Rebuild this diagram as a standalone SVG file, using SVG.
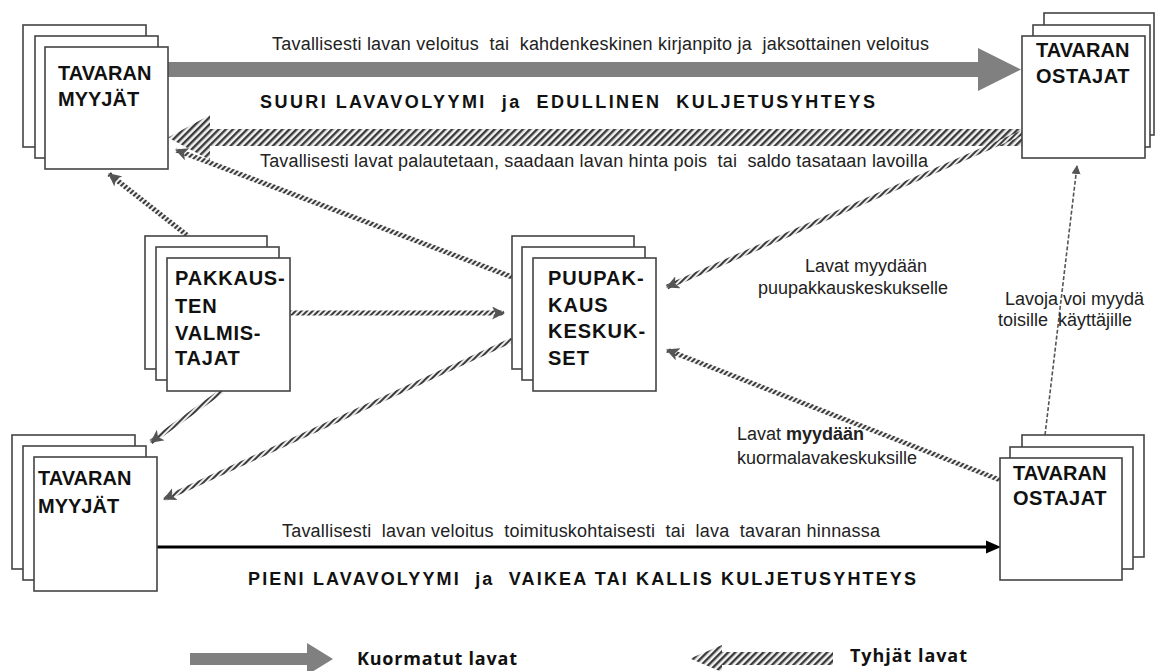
<svg xmlns="http://www.w3.org/2000/svg" width="1155" height="671" viewBox="0 0 1155 671">
<style>
.box{fill:#fff;stroke:#444;stroke-width:1.6}
.nt{font-family:"Liberation Sans",Arial,sans-serif;font-weight:bold;font-size:20px;fill:#111}
.lb{font-family:"Liberation Sans",Arial,sans-serif;font-size:18px;fill:#222}
.hd{font-family:"Liberation Sans",Arial,sans-serif;font-weight:bold;font-size:18px;fill:#111}
.lg{font-family:"Open Sans","Noto Sans",sans-serif;font-weight:bold;font-size:18px;fill:#111}
.rope{fill:none;stroke:url(#rope);stroke-width:5}
</style>
<defs>
<pattern id="hatch" patternUnits="userSpaceOnUse" width="5" height="5" patternTransform="rotate(45)">
<rect width="5" height="5" fill="#f2f2f2"/><rect width="2.4" height="5" fill="#3a3a3a"/>
</pattern>
<pattern id="rope" patternUnits="userSpaceOnUse" width="4" height="4" patternTransform="rotate(45)">
<rect width="4" height="4" fill="#eee"/><rect width="2" height="4" fill="#3c3c3c"/>
</pattern>
<marker id="ah" viewBox="0 0 12 12" refX="11" refY="6" markerWidth="13" markerHeight="13" markerUnits="userSpaceOnUse" orient="auto">
<path d="M0,0 L12,6 L0,12 L3,6 z" fill="#555"/>
</marker>
<marker id="ahs" viewBox="0 0 10 10" refX="9" refY="5" markerWidth="9" markerHeight="9" markerUnits="userSpaceOnUse" orient="auto">
<path d="M0,0 L10,5 L0,10 z" fill="#555"/>
</marker>
</defs>

<g id="connectors">
<polygon points="168,62 978,62 978,48 1021,69.5 978,91 978,77 168,77" fill="#808080"/>
<polygon points="1022,129 210,129 210,115 168,137.5 210,160 210,146 1022,146" fill="url(#hatch)"/>
<line x1="157" y1="547" x2="988" y2="547" stroke="#000" stroke-width="3"/>
<polygon points="986,540.5 1001,547 986,553.5" fill="#000"/>
<line class="rope" x1="512" y1="277" x2="176" y2="150" marker-end="url(#ah)"/>
<line class="rope" x1="188" y1="236" x2="109" y2="174" marker-end="url(#ah)"/>
<line class="rope" x1="290" y1="313" x2="504" y2="313" marker-end="url(#ah)"/>
<line class="rope" x1="222" y1="391" x2="151" y2="442" marker-end="url(#ah)"/>
<line class="rope" x1="512" y1="340" x2="164" y2="499" marker-end="url(#ah)"/>
<line class="rope" x1="1022" y1="133" x2="667" y2="287" marker-end="url(#ah)"/>
<line class="rope" x1="1000" y1="480" x2="667" y2="350" marker-end="url(#ah)"/>
<line x1="1045" y1="435" x2="1077" y2="166" stroke="#555" stroke-width="1.6" stroke-dasharray="4,2" marker-end="url(#ahs)"/>
</g>

<g id="seller-top">
<rect class="box" x="23" y="25" width="123" height="122"/>
<rect class="box" x="35" y="36" width="123" height="122"/>
<rect class="box" x="45" y="47" width="123" height="122"/>
<text class="nt" x="58" y="80">TAVARAN</text>
<text class="nt" x="58" y="106">MYYJÄT</text>
</g>

<g id="buyer-top">
<rect class="box" x="1044" y="13" width="110" height="122"/>
<rect class="box" x="1033" y="25" width="117" height="122"/>
<rect class="box" x="1022" y="36" width="123" height="122"/>
<text class="nt" x="1036" y="57">TAVARAN</text>
<text class="nt" x="1036" y="83" letter-spacing="0.5">OSTAJAT</text>
</g>

<g id="pakkausten">
<rect class="box" x="145" y="236" width="122" height="133"/>
<rect class="box" x="156" y="247" width="123" height="133"/>
<rect class="box" x="167" y="258" width="123" height="133"/>
<text class="nt" x="175" y="285" letter-spacing="0.8">PAKKAUS-</text>
<text class="nt" x="175" y="313" letter-spacing="0.8">TEN</text>
<text class="nt" x="175" y="340" letter-spacing="0.8">VALMIS-</text>
<text class="nt" x="175" y="365" letter-spacing="0.8">TAJAT</text>
</g>

<g id="puupakkaus">
<rect class="box" x="512" y="236" width="122" height="133"/>
<rect class="box" x="522" y="247" width="123" height="133"/>
<rect class="box" x="533" y="258" width="123" height="133"/>
<text class="nt" x="548" y="285" letter-spacing="1">PUUPAK-</text>
<text class="nt" x="548" y="312" letter-spacing="1">KAUS</text>
<text class="nt" x="548" y="338" letter-spacing="1">KESKUK-</text>
<text class="nt" x="548" y="365" letter-spacing="1">SET</text>
</g>

<g id="seller-bottom">
<rect class="box" x="12" y="435" width="123" height="134"/>
<rect class="box" x="23" y="446" width="123" height="134"/>
<rect class="box" x="34" y="457" width="123" height="134"/>
<text class="nt" x="38" y="485">TAVARAN</text>
<text class="nt" x="38" y="513">MYYJÄT</text>
</g>

<g id="buyer-bottom">
<rect class="box" x="1022" y="435" width="122" height="122"/>
<rect class="box" x="1010" y="447" width="123" height="122"/>
<rect class="box" x="1000" y="458" width="122" height="122"/>
<text class="nt" x="1013" y="480">TAVARAN</text>
<text class="nt" x="1013" y="505" letter-spacing="0.5">OSTAJAT</text>
</g>

<g id="labels">
<text class="lb" x="272" y="50" textLength="657" lengthAdjust="spacing" xml:space="preserve">Tavallisesti lavan veloitus  tai  kahdenkeskinen kirjanpito ja  jaksottainen veloitus</text>
<text class="hd" x="260" y="108" textLength="615" lengthAdjust="spacing" xml:space="preserve">SUURI LAVAVOLYYMI  ja  EDULLINEN  KULJETUSYHTEYS</text>
<text class="lb" x="260" y="167" textLength="668" lengthAdjust="spacing" xml:space="preserve">Tavallisesti lavat palautetaan, saadaan lavan hinta pois  tai  saldo tasataan lavoilla</text>
<text class="lb" x="805" y="272">Lavat myydään</text>
<text class="lb" x="758" y="294">puupakkauskeskukselle</text>
<text class="lb" x="1005" y="305">Lavoja voi myydä</text>
<text class="lb" x="998" y="326" xml:space="preserve">toisille  käyttäjille</text>
<text class="lb" x="737" y="440">Lavat <tspan font-weight="bold">myydään</tspan></text>
<text class="lb" x="737" y="464">kuormalavakeskuksille</text>
<text class="lb" x="282" y="537" textLength="598" lengthAdjust="spacing" xml:space="preserve">Tavallisesti  lavan veloitus  toimituskohtaisesti  tai  lava  tavaran hinnassa</text>
<text class="hd" x="248" y="585" textLength="668" lengthAdjust="spacing" xml:space="preserve">PIENI LAVAVOLYYMI  ja  VAIKEA TAI KALLIS KULJETUSYHTEYS</text>
</g>

<g id="legend">
<polygon points="190,653 307,653 307,643 333,659 307,675 307,665 190,665" fill="#808080"/>
<text class="lg" x="357" y="665" textLength="160" lengthAdjust="spacing">Kuormatut lavat</text>
<polygon points="833,652 722,652 722,645 690,658.5 722,672 722,665 833,665" fill="url(#hatch)"/>
<text class="lg" x="850" y="662" textLength="117" lengthAdjust="spacing">Tyhjät lavat</text>
</g>
</svg>
